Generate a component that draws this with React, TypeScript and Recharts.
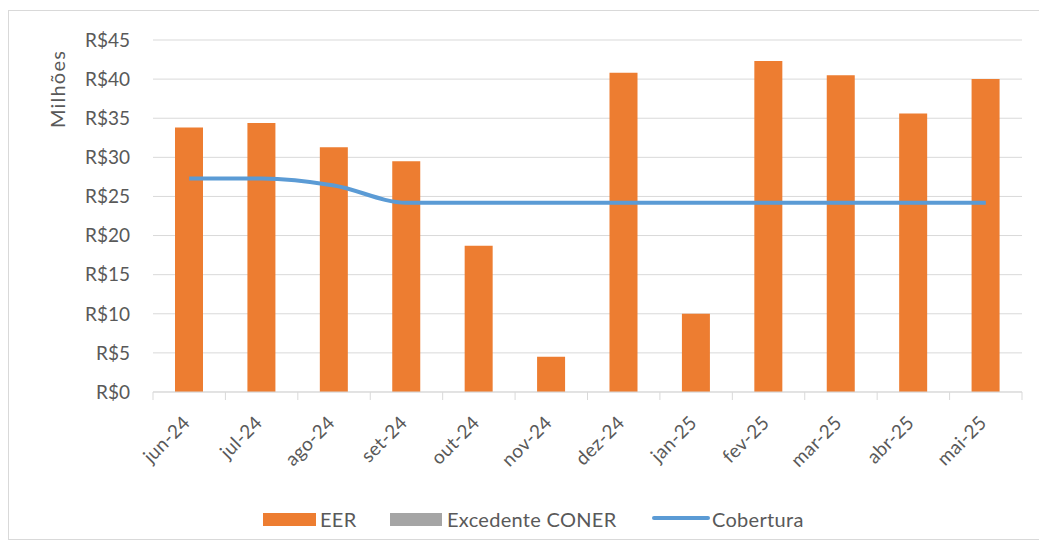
import React from "react";
import {
  ComposedChart,
  Bar,
  Line,
  XAxis,
  YAxis,
  CartesianGrid,
} from "recharts";

const months = [
  "jun-24", "jul-24", "ago-24", "set-24", "out-24", "nov-24",
  "dez-24", "jan-25", "fev-25", "mar-25", "abr-25", "mai-25",
];
const eer = [33.8, 34.4, 31.3, 29.5, 18.7, 4.5, 40.8, 10.0, 42.3, 40.5, 35.6, 40.0];
const excedenteConer = [0, 0, 0, 0, 0, 0, 0, 0, 0, 0, 0, 0];
const cobertura = [27.3, 27.3, 26.4, 24.2, 24.2, 24.2, 24.2, 24.2, 24.2, 24.2, 24.2, 24.2];
const yTicks = [0, 5, 10, 15, 20, 25, 30, 35, 40, 45];

const data = months.map((m, i) => ({
  month: m,
  eer: eer[i],
  excedente: excedenteConer[i],
  cobertura: cobertura[i],
}));

const FONT = "Lato, 'Open Sans', sans-serif";
const TEXT = "#595959";
const W = 1030;
const H = 528;
const MARGIN = { top: 29, right: 17, left: 0, bottom: 0 };
const Y_W = 144;
const BAND = (W - Y_W - MARGIN.right) / months.length;

const MonthTick = (props: any) => {
  const { x, y, payload, index } = props;
  const last = index === months.length - 1;
  const tx = x + 2;
  const ty = y + 32;
  return (
    <g>
      <line x1={x - BAND / 2} y1={y} x2={x - BAND / 2} y2={y + 8} stroke="#d9d9d9" />
      {last && (
        <line x1={x + BAND / 2} y1={y} x2={x + BAND / 2} y2={y + 8} stroke="#d9d9d9" />
      )}
      <text
        x={tx}
        y={ty}
        textAnchor="end"
        transform={`rotate(-45, ${tx}, ${ty})`}
        fill={TEXT}
        fontSize={19}
        letterSpacing={0.3}
        fontFamily={FONT}
      >
        {payload.value}
      </text>
    </g>
  );
};

const legendText: React.CSSProperties = {
  position: "absolute",
  fontFamily: FONT,
  fontSize: 20,
  letterSpacing: 0.3,
  color: TEXT,
  lineHeight: "24px",
  whiteSpace: "nowrap",
};

const App: React.FC = () => {
  return (
    <div
      style={{
        position: "relative",
        width: W,
        height: H,
        marginTop: 2,
        border: "1px solid #d9d9d9",
        background: "#fff",
      }}
    >
      <ComposedChart width={W} height={H} data={data} margin={MARGIN}>
        <CartesianGrid vertical={false} stroke="#d9d9d9" />
        <XAxis
          dataKey="month"
          height={H - MARGIN.top - 352}
          interval={0}
          tickSize={0}
          tickMargin={0}
          tickLine={false}
          axisLine={{ stroke: "#d9d9d9" }}
          tick={<MonthTick />}
        />
        <YAxis
          width={Y_W}
          domain={[0, 45]}
          ticks={yTicks}
          interval={0}
          axisLine={false}
          tickLine={false}
          tickSize={0}
          tickMargin={23}
          tickFormatter={(v: number) => `R$${v}`}
          tick={{ fill: TEXT, fontSize: 19, fontFamily: FONT }}
        />
        <Bar dataKey="eer" stackId="a" fill="#ed7d31" barSize={28} isAnimationActive={false} />
        <Bar dataKey="excedente" stackId="a" fill="#a5a5a5" barSize={28} isAnimationActive={false} />
        <Line
          type="monotone"
          dataKey="cobertura"
          stroke="#5b9bd5"
          strokeWidth={4}
          dot={false}
          activeDot={false}
          isAnimationActive={false}
        />
      </ComposedChart>

      <div
        style={{
          position: "absolute",
          left: 48,
          top: 78,
          transform: "translate(-50%, -50%) rotate(-90deg)",
          fontFamily: FONT,
          fontSize: 20,
          letterSpacing: 1.2,
          color: TEXT,
          whiteSpace: "nowrap",
        }}
      >
        Milhões
      </div>

      <div style={{ position: "absolute", left: 254, top: 502, width: 53, height: 13, background: "#ed7d31" }} />
      <div style={{ ...legendText, left: 311, top: 496 }}>EER</div>
      <div style={{ position: "absolute", left: 381, top: 502, width: 52, height: 13, background: "#a5a5a5" }} />
      <div style={{ ...legendText, left: 438, top: 496 }}>Excedente CONER</div>
      <div style={{ position: "absolute", left: 643, top: 505, width: 58, height: 4, borderRadius: 2, background: "#5b9bd5" }} />
      <div style={{ ...legendText, left: 703, top: 496 }}>Cobertura</div>
    </div>
  );
};

export default App;
